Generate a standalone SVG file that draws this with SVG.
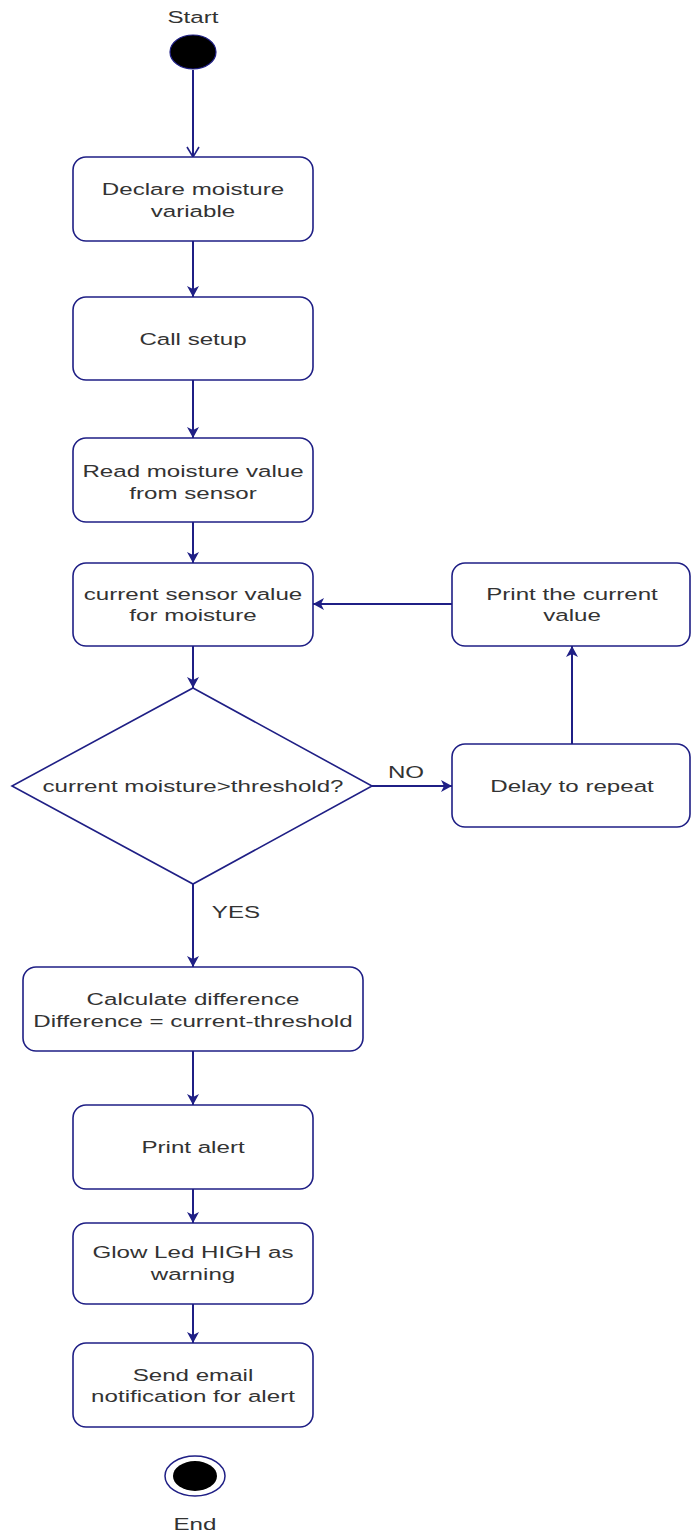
<svg xmlns="http://www.w3.org/2000/svg" width="691" height="1534" viewBox="0 0 691 1534">
<style>
.box{fill:#fff;stroke:#1f1f85;stroke-width:1.6}
.lbl{font-family:"Liberation Sans",Arial,sans-serif;font-size:17px;fill:#333;text-anchor:middle}
.edge{fill:none;stroke:#1f1f85;stroke-width:2}
</style>
<defs>
<marker id="arr" markerUnits="userSpaceOnUse" markerWidth="14" markerHeight="14" refX="11" refY="7" orient="auto">
<path d="M0,1 L11,7 L0,13 L3,7 Z" fill="#1f1f85"/>
</marker>
<marker id="open" markerUnits="userSpaceOnUse" markerWidth="14" markerHeight="14" refX="11" refY="7" orient="auto">
<path d="M1,1 L11,7 L1,13" fill="none" stroke="#1f1f85" stroke-width="1.6"/>
</marker>
</defs>
<rect width="691" height="1534" fill="#fff"/>
<g id="connectors">
<line class="edge" x1="193" y1="70" x2="193" y2="157" marker-end="url(#open)"/>
<line class="edge" x1="193" y1="241" x2="193" y2="297" marker-end="url(#arr)"/>
<line class="edge" x1="193" y1="380" x2="193" y2="438" marker-end="url(#arr)"/>
<line class="edge" x1="193" y1="522" x2="193" y2="563" marker-end="url(#arr)"/>
<line class="edge" x1="193" y1="646" x2="193" y2="688" marker-end="url(#arr)"/>
<line class="edge" x1="372" y1="786" x2="452" y2="786" marker-end="url(#arr)"/>
<line class="edge" x1="572" y1="744" x2="572" y2="646" marker-end="url(#arr)"/>
<line class="edge" x1="452" y1="604" x2="313" y2="604" marker-end="url(#arr)"/>
<line class="edge" x1="193" y1="884" x2="193" y2="967" marker-end="url(#arr)"/>
<line class="edge" x1="193" y1="1051" x2="193" y2="1105" marker-end="url(#arr)"/>
<line class="edge" x1="193" y1="1189" x2="193" y2="1223" marker-end="url(#arr)"/>
<line class="edge" x1="193" y1="1304" x2="193" y2="1343" marker-end="url(#arr)"/>
<text class="lbl" transform="matrix(1.42 0 0 1 406 0)" x="0" y="778">NO</text>
<text class="lbl" transform="matrix(1.42 0 0 1 236 0)" x="0" y="918">YES</text>
</g>
<g id="start">
<text class="lbl" transform="matrix(1.42 0 0 1 193 0)" x="0" y="23">Start</text>
<ellipse cx="193" cy="52" rx="23" ry="17" fill="#000" stroke="#1f1f85" stroke-width="1.2"/>
</g>
<g id="declare">
<rect class="box" x="73" y="157" width="240" height="84" rx="13"/>
<text class="lbl" transform="matrix(1.42 0 0 1 193 0)" x="0" y="195">Declare moisture</text>
<text class="lbl" transform="matrix(1.42 0 0 1 193 0)" x="0" y="217">variable</text>
</g>
<g id="setup">
<rect class="box" x="73" y="297" width="240" height="83" rx="13"/>
<text class="lbl" transform="matrix(1.42 0 0 1 193 0)" x="0" y="345">Call setup</text>
</g>
<g id="read">
<rect class="box" x="73" y="438" width="240" height="84" rx="13"/>
<text class="lbl" transform="matrix(1.42 0 0 1 193 0)" x="0" y="477">Read moisture value</text>
<text class="lbl" transform="matrix(1.42 0 0 1 193 0)" x="0" y="499">from sensor</text>
</g>
<g id="current">
<rect class="box" x="73" y="563" width="240" height="83" rx="13"/>
<text class="lbl" transform="matrix(1.42 0 0 1 193 0)" x="0" y="600">current sensor value</text>
<text class="lbl" transform="matrix(1.42 0 0 1 193 0)" x="0" y="621">for moisture</text>
</g>
<g id="printcurrent">
<rect class="box" x="452" y="563" width="238" height="83" rx="13"/>
<text class="lbl" transform="matrix(1.42 0 0 1 572 0)" x="0" y="600">Print the current</text>
<text class="lbl" transform="matrix(1.42 0 0 1 572 0)" x="0" y="621">value</text>
</g>
<g id="decision">
<polygon class="box" points="193,688 372,786 193,884 12,786"/>
<text class="lbl" transform="matrix(1.42 0 0 1 193 0)" x="0" y="792">current moisture&gt;threshold?</text>
</g>
<g id="delay">
<rect class="box" x="452" y="744" width="238" height="83" rx="13"/>
<text class="lbl" transform="matrix(1.42 0 0 1 572 0)" x="0" y="792">Delay to repeat</text>
</g>
<g id="calc">
<rect class="box" x="23" y="967" width="340" height="84" rx="13"/>
<text class="lbl" transform="matrix(1.42 0 0 1 193 0)" x="0" y="1005">Calculate difference</text>
<text class="lbl" transform="matrix(1.42 0 0 1 193 0)" x="0" y="1027">Difference = current-threshold</text>
</g>
<g id="alert">
<rect class="box" x="73" y="1105" width="240" height="84" rx="13"/>
<text class="lbl" transform="matrix(1.42 0 0 1 193 0)" x="0" y="1153">Print alert</text>
</g>
<g id="glow">
<rect class="box" x="73" y="1223" width="240" height="81" rx="13"/>
<text class="lbl" transform="matrix(1.42 0 0 1 193 0)" x="0" y="1258">Glow Led HIGH as</text>
<text class="lbl" transform="matrix(1.42 0 0 1 193 0)" x="0" y="1280">warning</text>
</g>
<g id="email">
<rect class="box" x="73" y="1343" width="240" height="84" rx="13"/>
<text class="lbl" transform="matrix(1.42 0 0 1 193 0)" x="0" y="1381">Send email</text>
<text class="lbl" transform="matrix(1.42 0 0 1 193 0)" x="0" y="1402">notification for alert</text>
</g>
<g id="end">
<ellipse cx="195" cy="1476" rx="30" ry="20" fill="#fff" stroke="#1f1f85" stroke-width="1.5"/>
<ellipse cx="195" cy="1476" rx="22" ry="15" fill="#000"/>
<text class="lbl" transform="matrix(1.42 0 0 1 195 0)" x="0" y="1530">End</text>
</g>
</svg>
